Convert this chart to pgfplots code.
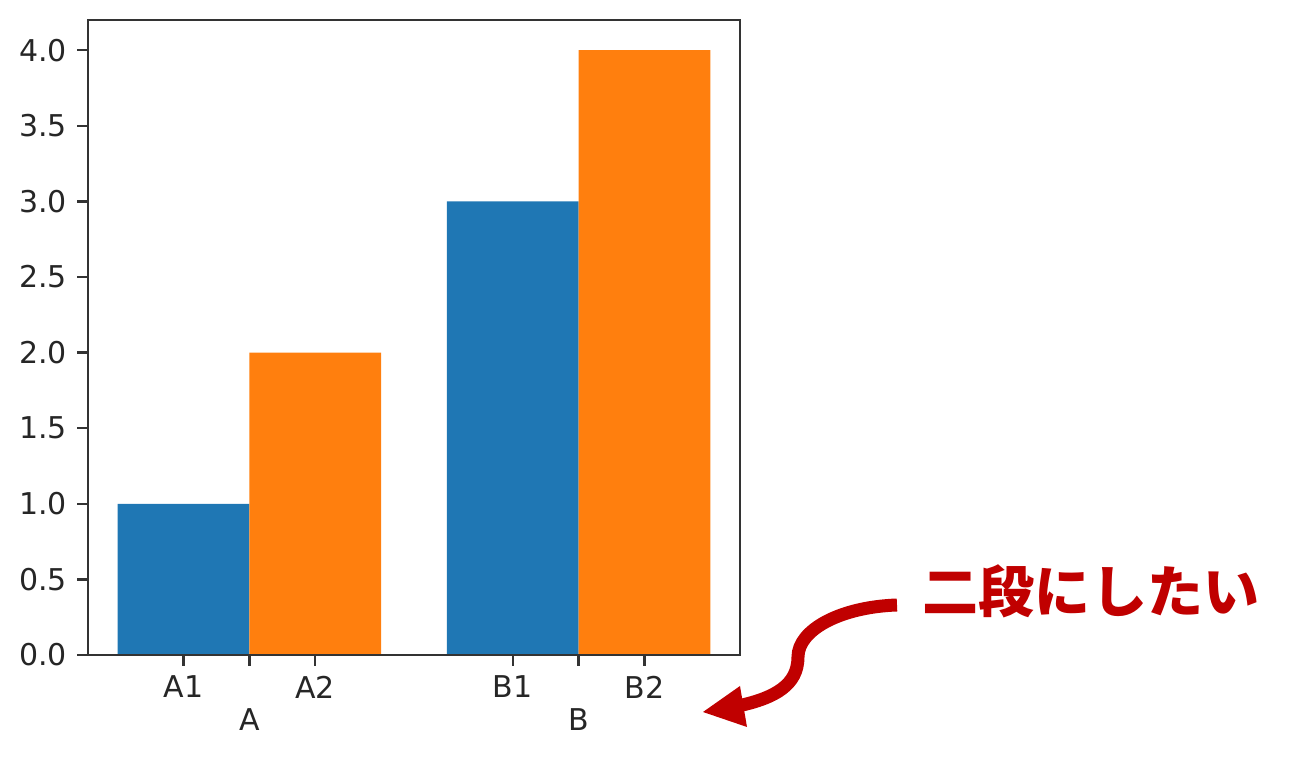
\documentclass[border=0pt]{standalone}
\usepackage{fontspec}
\setmainfont{DejaVu Sans}
\newfontfamily\cjk{Noto Sans CJK JP}
\usepackage{pgfplots}
\pgfplotsset{compat=1.18}
\definecolor{mblue}{HTML}{1F77B4}
\definecolor{morange}{HTML}{FF7F0E}
\definecolor{note}{HTML}{C00000}
\begin{document}
\begin{tikzpicture}
% page frame: 1299 x 758 px at 1/3 pt per px
\path (0,0) rectangle (433pt,-252.667pt);
\begin{axis}[
  at={(29.333pt,-218.333pt)}, anchor=south west,
  scale only axis, width=217.333pt, height=211.667pt,
  xmin=-0.49, xmax=1.49, ymin=0, ymax=4.2,
  ybar, bar width=0.4, bar shift=0pt,
  axis on top,
  axis line style={line width=0.8pt, draw=black!80},
  tick style={line width=0.8pt, draw=black!80},
  tick align=outside, major tick length=3.5pt,
  tick pos=left,
  xtick={-0.2,0.2,0.8,1.2}, xticklabels={A1,A2,B1,B2},
  extra x ticks={0,1}, extra x tick labels={A,B},
  extra x tick style={xticklabel style={yshift=-10.7pt}},
  ytick={0,0.5,1,1.5,2,2.5,3,3.5,4},
  yticklabel style={/pgf/number format/fixed, /pgf/number format/fixed zerofill, /pgf/number format/precision=1},
  ticklabel style={text=black!85},
  /pgf/number format/assume math mode=true,
]
\addplot[fill=mblue, draw=none] coordinates {(-0.2,1) (0.8,3)};
\addplot[fill=morange, draw=none] coordinates {(0.2,2) (1.2,4)};
\end{axis}
\begin{scope}[x=0.33333pt, y=-0.33333pt]
  \draw[note, line width=4.33pt] (897,605) .. controls (840,607) and (798,630) .. (798,657)
        .. controls (798,685) and (775,698) .. (738,706);
  \fill[note] (703,712) -- (740,686) -- (747,727) -- cycle;
  \node[text=note, inner sep=0, font={\cjk\bfseries\fontsize{18.67pt}{20pt}\selectfont}] at (1091,591) {二段にしたい};
\end{scope}
\end{tikzpicture}
\end{document}
